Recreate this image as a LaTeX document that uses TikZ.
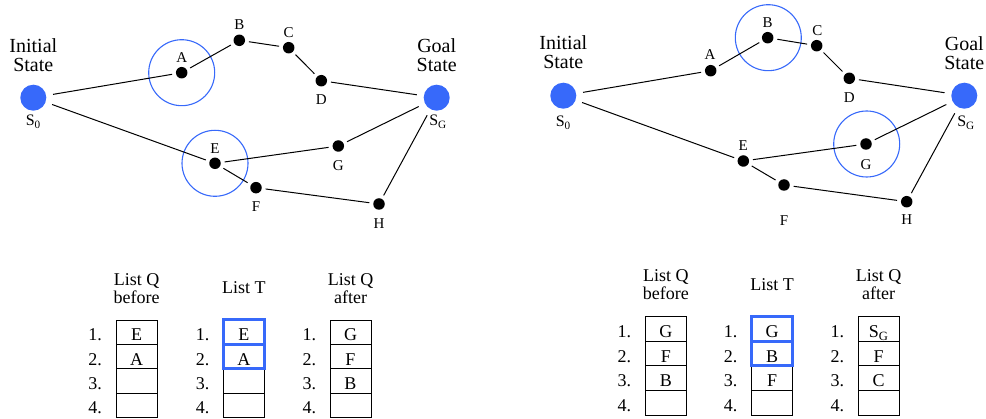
\documentclass[tikz,border=0pt]{standalone}
\usepackage{fontspec}
\setmainfont{Liberation Serif}
\definecolor{sblue}{RGB}{55,105,250}
\begin{document}
\begin{tikzpicture}[x=1pt,y=-1pt,
  vtx/.style={circle,fill=black,inner sep=0,minimum size=11.5,outer sep=4},
  bigstate/.style={circle,fill=sblue,inner sep=0,minimum size=26,outer sep=7},
  ring/.style={circle,draw=sblue,line width=1.1,inner sep=0,minimum size=66},
  link/.style={line width=1},
  lbl/.style={inner sep=0,font=\fontsize{15}{15}\selectfont},
  stitle/.style={inner sep=0,anchor=base,font=\fontsize{20}{20}\selectfont},
  slbl/.style={inner sep=0,anchor=base,font=\fontsize{16}{16}\selectfont},
  hdr/.style={inner sep=0,anchor=base,font=\fontsize{18}{18}\selectfont},
  cell/.style={draw,line width=0.8,minimum width=41,minimum height=24.5,inner sep=0,
    text height=17,text depth=0,font=\fontsize{18}{18}\selectfont},
  hlcell/.style={cell,draw=sblue,line width=3},
  num/.style={inner sep=0,text height=17,text depth=0,font=\fontsize{18}{18}\selectfont}
]
\useasboundingbox (0,0) rectangle (986,419);

% ---------- left search graph ----------
\node[ring] (lRA) at (181.7,72.7) {};
\node[ring] (lRE) at (215,163.3) {};
\node[bigstate] (lS0) at (33.3,97.7) {};
\node[bigstate] (lSG) at (436.7,97.7) {};
\node[vtx] (lA) at (181.7,72.7) {};
\node[vtx] (lB) at (239.3,40.3) {};
\node[vtx] (lC) at (288.7,47.7) {};
\node[vtx] (lD) at (321.3,80.7) {};
\node[vtx] (lE) at (215,163.3) {};
\node[vtx] (lG) at (338.3,146) {};
\node[vtx] (lF) at (256,187.7) {};
\node[vtx] (lH) at (379,204) {};
\draw[link] (lS0) -- (lA) -- (lB) -- (lC) -- (lD) -- (lSG);
\draw[link] (lS0) -- (lE) -- (lG) -- (lSG);
\draw[link] (lE) -- (lF) -- (lH) -- (lSG);

\node[stitle] (lI1) at (33.3,52.7) {Initial};
\node[stitle] (lI2) at (33.3,71.7) {State};
\node[stitle] (lG1) at (436.7,52.7) {Goal};
\node[stitle] (lG2) at (436.7,71.7) {State};
\node[slbl] (lS0t) at (33.3,126) {S\textsubscript{0}};
\node[slbl] (lSGt) at (438,126) {S\textsubscript{G}};
\node[lbl] (lAt) at (181.7,57.5) {A};
\node[lbl] (lBt) at (239.3,25) {B};
\node[lbl] (lCt) at (288.7,32.7) {C};
\node[lbl] (lDt) at (321.3,100) {D};
\node[lbl] (lEt) at (215,148.3) {E};
\node[lbl] (lGt) at (338.3,165.3) {G};
\node[lbl] (lFt) at (256,207) {F};
\node[lbl] (lHt) at (379,223.7) {H};

% ---------- right search graph ----------
\node[ring] (rRB) at (768.3,37.7) {};
\node[ring] (rRG) at (866.7,144) {};
\node[bigstate] (rS0) at (563.3,95.7) {};
\node[bigstate] (rSG) at (964.3,95.7) {};
\node[vtx] (rA) at (710.7,70.7) {};
\node[vtx] (rB) at (767.7,37.7) {};
\node[vtx] (rC) at (816.7,45.7) {};
\node[vtx] (rD) at (849.3,78.3) {};
\node[vtx] (rE) at (743.3,161) {};
\node[vtx] (rG) at (866,144) {};
\node[vtx] (rF) at (784,185) {};
\node[vtx] (rH) at (906.7,201.7) {};
\draw[link] (rS0) -- (rA) -- (rB) -- (rC) -- (rD) -- (rSG);
\draw[link] (rS0) -- (rE) -- (rG) -- (rSG);
\draw[link] (rE) -- (rF) -- (rH) -- (rSG);

\node[stitle] (rI1) at (563.3,50) {Initial};
\node[stitle] (rI2) at (563.3,69) {State};
\node[stitle] (rG1) at (964.3,50.7) {Goal};
\node[stitle] (rG2) at (964.3,69.7) {State};
\node[slbl] (rS0t) at (563.3,126.5) {S\textsubscript{0}};
\node[slbl] (rSGt) at (966,126.5) {S\textsubscript{G}};
\node[lbl] (rAt) at (710,55) {A};
\node[lbl] (rBt) at (767.7,22.3) {B};
\node[lbl] (rCt) at (817.3,30.7) {C};
\node[lbl] (rDt) at (849.3,97.7) {D};
\node[lbl] (rEt) at (743.3,145.7) {E};
\node[lbl] (rGt) at (866,164.3) {G};
\node[lbl] (rFt) at (784,221) {F};
\node[lbl] (rHt) at (906.7,220) {H};

% ---------- left lists ----------
\node[hdr] (lqbh1) at (136.7,286) {List Q};
\node[hdr] (lqbh2) at (136.7,303.3) {before};
\node[hdr] (lth) at (243.8,294) {List T};
\node[hdr] (lqah1) at (350.5,286) {List Q};
\node[hdr] (lqah2) at (350.5,303.3) {after};
\foreach \r/\y in {1/332.2,2/356.6,3/381.0,4/405.5}{
  \node[num] (lqbn\r) at (95,\y) {\r.};
  \node[num] (ltn\r) at (202.7,\y) {\r.};
  \node[num] (lqan\r) at (309.3,\y) {\r.};
}
\node[cell] (lqb1) at (136.7,332.2) {E};
\node[cell] (lqb2) at (136.7,356.6) {A};
\node[cell] (lqb3) at (136.7,381.0) {};
\node[cell] (lqb4) at (136.7,405.5) {};
\node[cell] (lt3) at (243.8,381.0) {};
\node[cell] (lt4) at (243.8,405.5) {};
\node[hlcell] (lt1) at (243.8,332.2) {E};
\node[hlcell] (lt2) at (243.8,356.6) {A};
\node[cell] (lqa1) at (350.5,332.2) {G};
\node[cell] (lqa2) at (350.5,356.6) {F};
\node[cell] (lqa3) at (350.5,381.0) {B};
\node[cell] (lqa4) at (350.5,405.5) {};

% ---------- right lists ----------
\node[hdr] (rqbh1) at (665.8,281.7) {List Q};
\node[hdr] (rqbh2) at (665.8,300) {before};
\node[hdr] (rth) at (772.2,290.7) {List T};
\node[hdr] (rqah1) at (878.7,281.7) {List Q};
\node[hdr] (rqah2) at (878.7,300) {after};
\foreach \r/\y in {1/329,2/353.6,3/378.1,4/402.7}{
  \node[num] (rqbn\r) at (624.3,\y) {\r.};
  \node[num] (rtn\r) at (730.7,\y) {\r.};
  \node[num] (rqan\r) at (837.3,\y) {\r.};
}
\node[cell] (rqb1) at (665.8,329) {G};
\node[cell] (rqb2) at (665.8,353.6) {F};
\node[cell] (rqb3) at (665.8,378.1) {B};
\node[cell] (rqb4) at (665.8,402.7) {};
\node[cell] (rt3) at (772.2,378.1) {F};
\node[cell] (rt4) at (772.2,402.7) {};
\node[hlcell] (rt1) at (772.2,329) {G};
\node[hlcell] (rt2) at (772.2,353.6) {B};
\node[cell] (rqa1) at (878.7,329) {S\textsubscript{G}};
\node[cell] (rqa2) at (878.7,353.6) {F};
\node[cell] (rqa3) at (878.7,378.1) {C};
\node[cell] (rqa4) at (878.7,402.7) {};
\end{tikzpicture}
\end{document}
